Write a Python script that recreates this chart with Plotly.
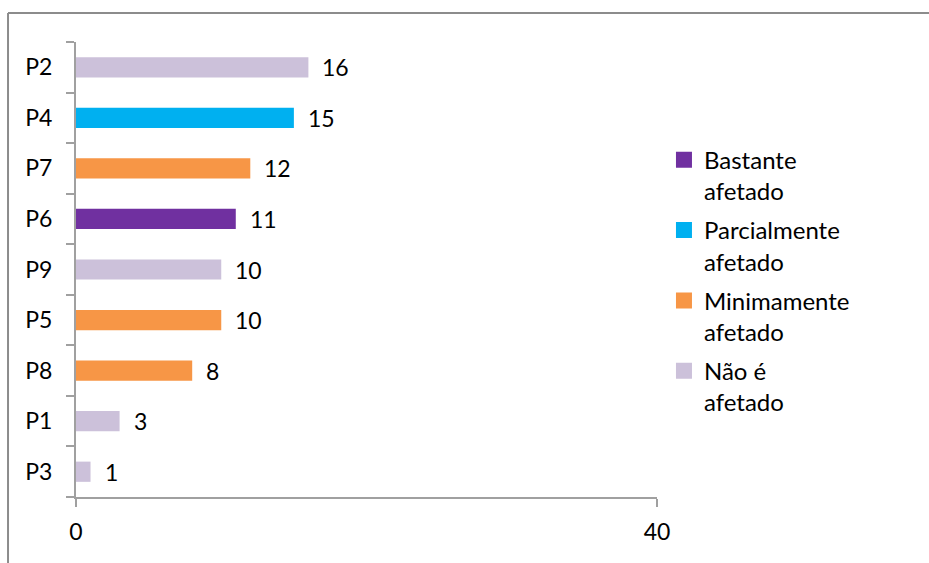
import plotly.graph_objects as go

# Respondents ordered from top to bottom
participants = ["P2", "P4", "P7", "P6", "P9", "P5", "P8", "P1", "P3"]
scores = [16, 15, 12, 11, 10, 10, 8, 3, 1]
impact = [
    "Não é afetado", "Parcialmente afetado", "Minimamente afetado",
    "Bastante afetado", "Não é afetado", "Minimamente afetado",
    "Minimamente afetado", "Não é afetado", "Não é afetado",
]

# Legend order and colours
levels = ["Bastante afetado", "Parcialmente afetado", "Minimamente afetado", "Não é afetado"]
legend_names = ["Bastante<br>afetado", "Parcialmente<br>afetado", "Minimamente<br>afetado", "Não é<br>afetado"]
colors = ["#7030A0", "#00B0F0", "#F79646", "#CCC1DA"]

x_ticks = [0, 40]

FONT = "Lato, Calibri, Arial, sans-serif"
AXIS_GRAY = "#A0A0A0"

fig = go.Figure()
for level, name, color in zip(levels, legend_names, colors):
    ys = [p for p, lv in zip(participants, impact) if lv == level]
    xs = [s for s, lv in zip(scores, impact) if lv == level]
    fig.add_trace(go.Bar(
        x=xs, y=ys, name=name, orientation="h",
        marker=dict(color=color, line=dict(width=0)),
        hoverinfo="x+y", legendgroup=level, showlegend=False,
    ))
    # legend entry with a larger square swatch
    fig.add_trace(go.Scatter(
        x=[None], y=[None], mode="markers", name=name,
        marker=dict(symbol="square", size=16, color=color, line=dict(width=0)),
        legendgroup=level, showlegend=True, hoverinfo="skip",
    ))

# Value labels to the right of each bar
for p, s in zip(participants, scores):
    fig.add_annotation(
        x=s, y=p, text=str(s), showarrow=False,
        xanchor="left", xshift=12,
        font=dict(family=FONT, size=23, color="#000000"),
    )

# Outer chart frame
frame = dict(color="#8C8C8C", width=2)
fig.add_shape(type="line", xref="paper", yref="paper",
              x0=-0.117, x1=1.6, y0=1.0637, y1=1.0637, line=frame)
fig.add_shape(type="line", xref="paper", yref="paper",
              x0=-0.117, x1=-0.117, y0=1.0637, y1=-0.3, line=frame)

fig.update_layout(
    width=929, height=563,
    margin=dict(l=76, r=272, t=42, b=66),
    paper_bgcolor="white", plot_bgcolor="white",
    barmode="overlay", bargap=0.6,
    font=dict(family=FONT, size=23, color="#000000"),
    showlegend=True,
    legend=dict(
        x=1.012, y=0.79, xanchor="left", yanchor="top",
        valign="top", traceorder="grouped", tracegroupgap=5,
        itemsizing="trace",
        font=dict(family=FONT, size=24, color="#000000"),
        bgcolor="rgba(0,0,0,0)",
    ),
    xaxis=dict(
        range=[0, 40], tickvals=x_ticks, ticktext=[str(v) for v in x_ticks],
        showgrid=True, gridcolor=AXIS_GRAY, gridwidth=2,
        showline=True, linecolor=AXIS_GRAY, linewidth=2,
        ticks="outside", ticklen=8, tickwidth=2, tickcolor=AXIS_GRAY,
        ticklabelstandoff=5, zeroline=False, fixedrange=True,
    ),
    yaxis=dict(
        categoryorder="array", categoryarray=participants[::-1],
        showline=True, linecolor=AXIS_GRAY, linewidth=2,
        ticks="outside", tickson="boundaries", ticklen=8, tickwidth=2,
        tickcolor=AXIS_GRAY, ticklabelstandoff=17,
        showgrid=False, zeroline=False, fixedrange=True,
    ),
)

fig.write_html("out.html")
